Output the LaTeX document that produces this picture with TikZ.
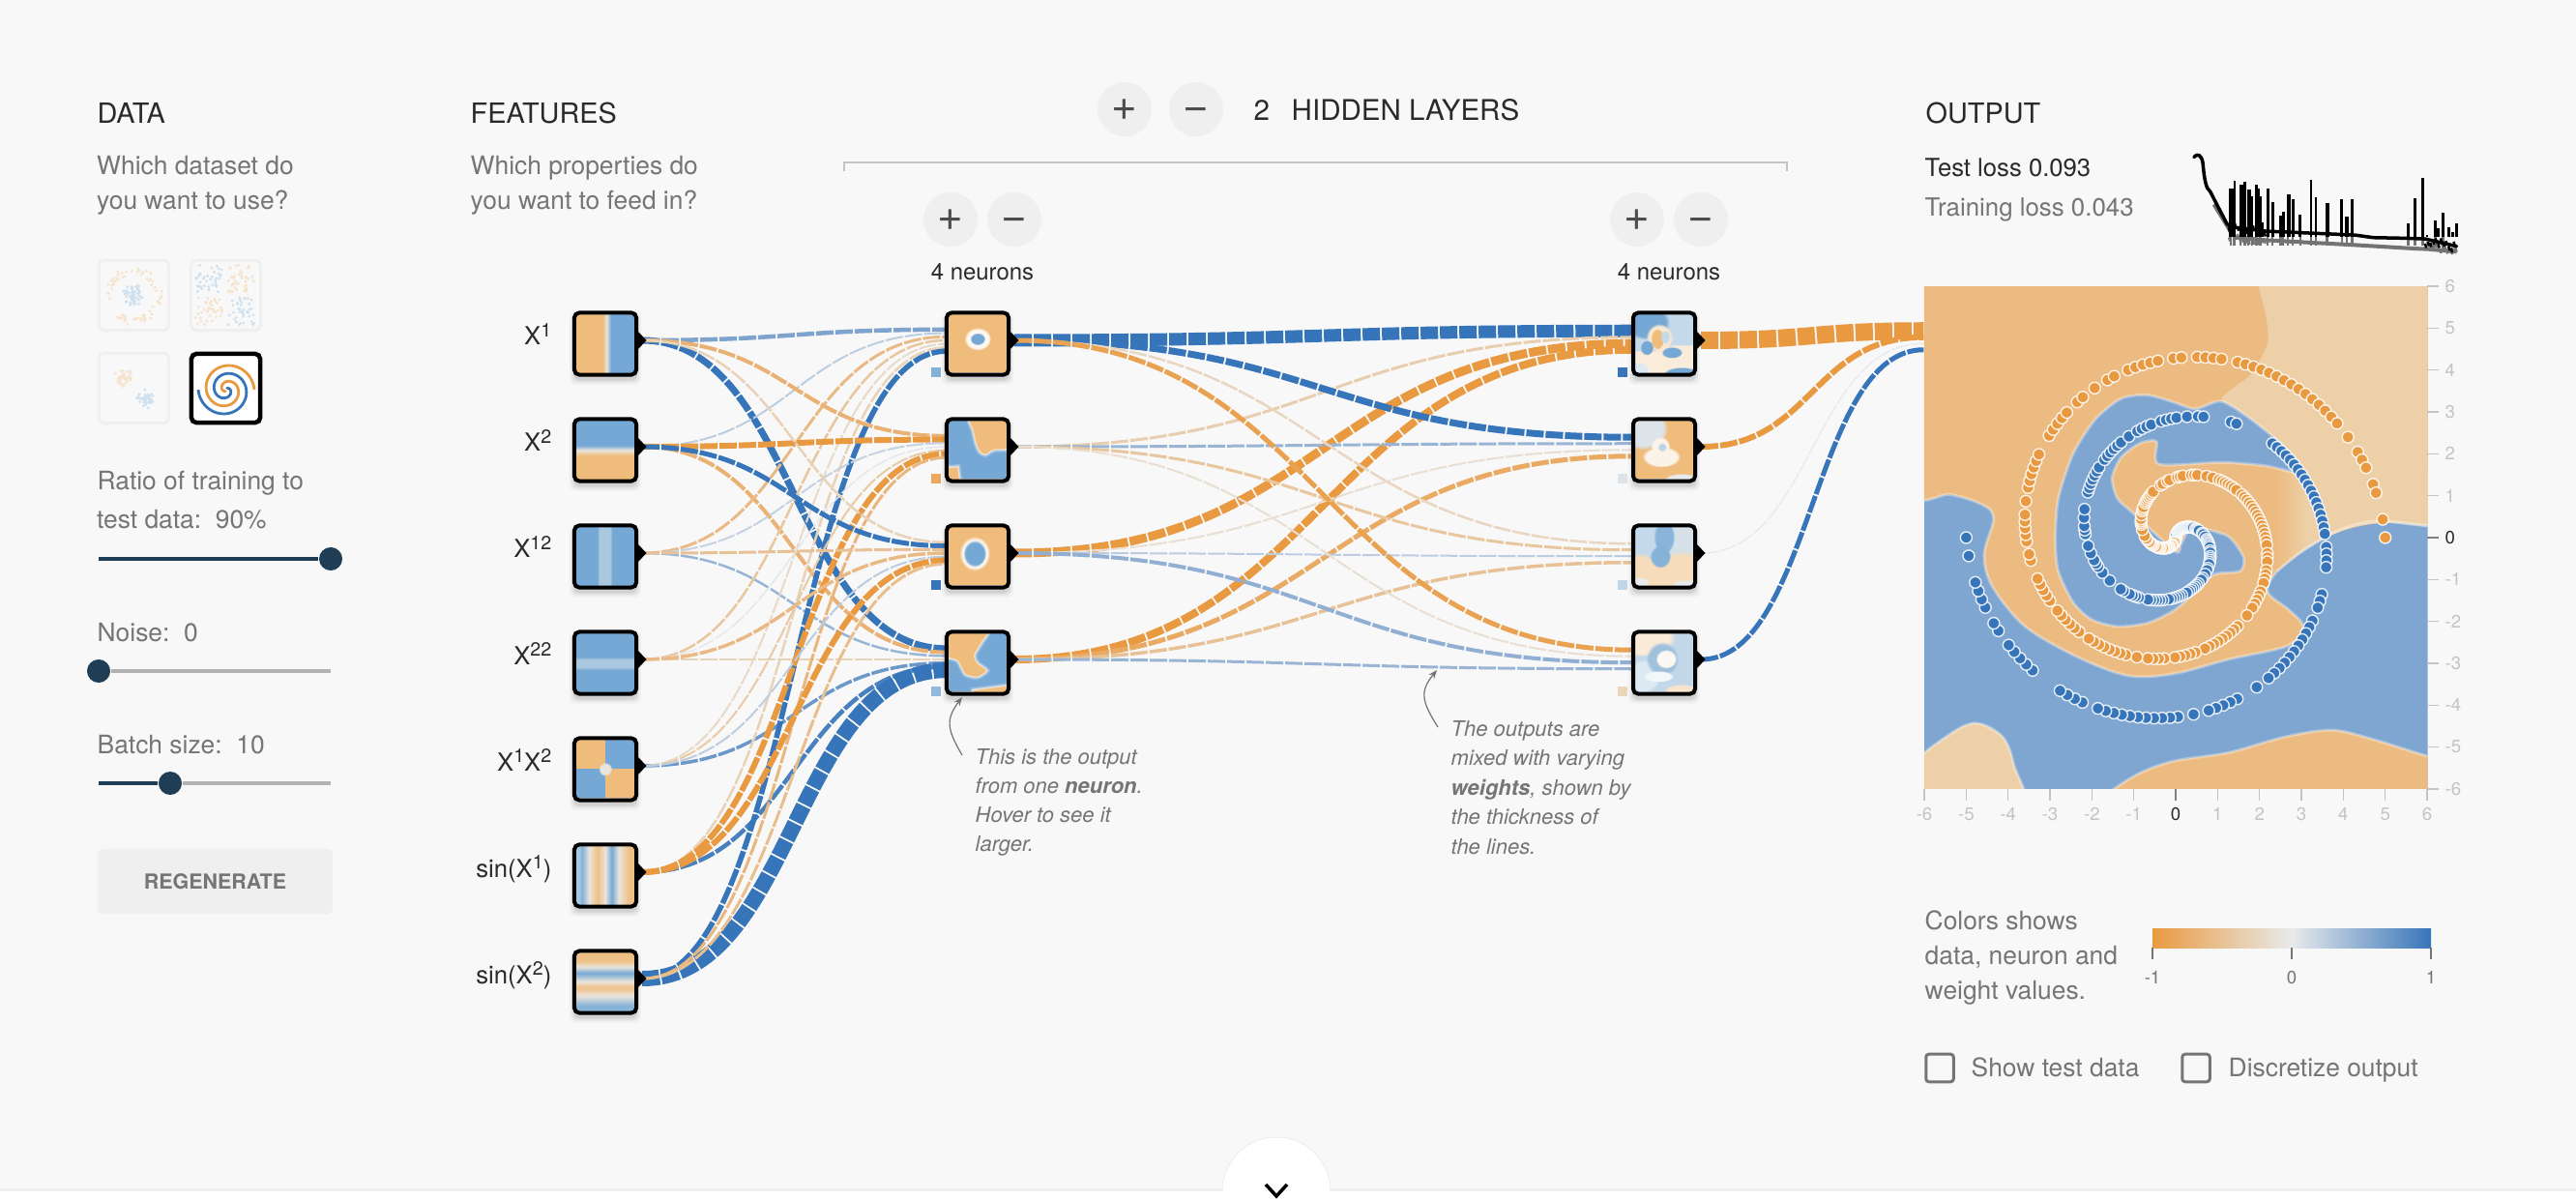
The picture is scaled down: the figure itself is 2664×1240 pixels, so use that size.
\documentclass[tikz,border=0pt]{standalone}
\usepackage{fontspec}
\setmainfont{TeX Gyre Heros}
\usetikzlibrary{calc,arrows.meta,fadings}
\definecolor{org}{HTML}{E99A41}
\definecolor{blu}{HTML}{3775BA}
\definecolor{neut}{HTML}{E8EAEB}
\definecolor{pageb}{HTML}{F8F8F8}
\definecolor{to}{HTML}{EFBC7C}
\definecolor{tb}{HTML}{75A8D4}
\definecolor{tw}{HTML}{E9E4DC}
\definecolor{tl}{HTML}{AAC9E0}
\definecolor{po}{HTML}{ECBB82}
\definecolor{pb}{HTML}{7FA6D0}
\definecolor{pe}{HTML}{EDD0A8}
\definecolor{navy}{HTML}{1F3D54}
\definecolor{txtg}{HTML}{757575}
\definecolor{txtd}{HTML}{2A2A2A}
\definecolor{tick}{HTML}{C4C4C4}
\definecolor{btn}{HTML}{EFEFEF}
\definecolor{dsO}{HTML}{F6E3CC}
\definecolor{dsB}{HTML}{CFE1EE}
\pgfdeclarehorizontalshading{shxa}{100bp}{color(0bp)=(to);color(48bp)=(to);color(51bp)=(tw);color(55bp)=(tb);color(100bp)=(tb)}
\pgfdeclareverticalshading{shxb}{100bp}{color(0bp)=(to);color(45bp)=(to);color(50bp)=(tw);color(54bp)=(tb);color(100bp)=(tb)}
\pgfdeclarehorizontalshading{shxc}{100bp}{color(0bp)=(tb);color(43bp)=(tb);color(45bp)=(tl);color(54bp)=(tl);color(56bp)=(tb);color(100bp)=(tb)}
\pgfdeclareverticalshading{shxd}{100bp}{color(0bp)=(tb);color(44bp)=(tb);color(46bp)=(tl);color(53bp)=(tl);color(55bp)=(tb);color(100bp)=(tb)}
\pgfdeclarehorizontalshading{shxs}{100bp}{color(0bp)=(tl);color(27bp)=(tl);color(30bp)=(tb!75!tl);color(36bp)=(tw);color(43.5bp)=(to!90!tw);color(50bp)=(tw);color(55.5bp)=(tb);color(61.5bp)=(tw);color(70.5bp)=(to!90!tw);color(100bp)=(to!90!tw)}
\pgfdeclareverticalshading{shxt}{100bp}{color(0bp)=(tl);color(29.5bp)=(tb!70!tl);color(38bp)=(tw);color(45bp)=(to!90!tw);color(50.5bp)=(tw);color(57.5bp)=(tb);color(63bp)=(tw);color(68bp)=(to!90!tw);color(100bp)=(to!90!tw)}
\pgfdeclarehorizontalshading{shlegend}{100bp}{color(0bp)=(org);color(25bp)=(org);color(50bp)=(neut);color(75bp)=(blu);color(100bp)=(blu)}
\pgfdeclarehorizontalshading{shpm}{100bp}{color(0bp)=(po);color(27.5bp)=(po);color(34.2bp)=(pe);color(100bp)=(pe)}
\pgfdeclarelayer{bg}\pgfdeclarelayer{links}\pgfdeclarelayer{thumbs}
\pgfsetlayers{bg,links,thumbs,main}
\tikzset{
  link/.style={dash pattern=on 0.18cm off 0.02cm},
  fbox/.style={draw=black,line width=0.04cm,rounded corners=0.05cm,minimum size=0.64cm,inner sep=0pt,outer sep=0pt},
  head/.style={anchor=base west,inner sep=0pt,font=\fontsize{8.2}{10}\selectfont,text=txtd},
  body/.style={anchor=base west,inner sep=0pt,font=\fontsize{7.5}{9}\selectfont,text=txtg},
  note/.style={anchor=base west,inner sep=0pt,font=\fontsize{6.25}{8}\selectfont\itshape,text=txtg},
  flab/.style={anchor=base east,inner sep=0pt,font=\fontsize{7.3}{9}\selectfont,text=txtd},
  roundbtn/.style={circle,fill=btn,minimum size=0.56cm,inner sep=0pt,text=black!70,font=\fontsize{13}{13}\selectfont,text height=6.5pt,text depth=0pt},
  tk/.style={inner sep=0pt,font=\fontsize{5.3}{6}\selectfont,text=tick},
  dstile/.style={draw=btn,line width=0.03cm,rounded corners=0.05cm,minimum size=0.72cm,inner sep=0pt,fill=pageb},
  region/.style={fill=#1,draw=white,draw opacity=.35,line width=0.03cm},
  arrowg/.style={draw=black!55,line width=0.012cm,-{Stealth[length=0.09cm,width=0.07cm]}},
  chk/.style={draw=txtg,line width=0.03cm,rounded corners=0.03cm,minimum size=0.285cm,inner sep=0pt},
  softedge/.style={fill=#1,preaction={draw=white,draw opacity=.25,line width=0.05cm},draw=white,draw opacity=.5,line width=0.018cm},
}
\newcommand\sps[1]{\raisebox{2.5pt}{\fontsize{5.6}{6}\selectfont #1}}
\newcommand\sblob[5]{\fill[#5,path fading=circle with fuzzy edge 20 percent] (#1,#2) ellipse (#3 and #4);}
\newcommand\lnk[6]{%
  \pgfmathtruncatemacro\lnkabs{abs(#5)}%
  \ifnum#5<0 \colorlet{lc}{org!\lnkabs!neut}\else\colorlet{lc}{blu!\lnkabs!neut}\fi
  \pgfmathsetmacro\lnkoff{(#3-(#4-1)/2)/#4*26-3.5}%
  \coordinate (S) at ($(#1.east)+(6,-3.5)$);
  \coordinate (T) at ($(#2.west)+(0,\lnkoff)$);
  \coordinate (M) at ($(S)!.5!(T)$);
  \draw[link,draw=lc,line width={#6*0.01cm}] (S) .. controls (M |- S) and (M |- T) .. (T);
}
\newcommand\thumb[2]{%
  \begin{pgfonlayer}{thumbs}
    \foreach \grow/\op in {5/.03,3/.05,1/.08}{
      \fill[black,opacity=\op,rounded corners=0.06cm] ($(#1.north west)+(-\grow,5-\grow)$) rectangle ($(#1.south east)+(\grow,5+\grow)$);
    }
    \begin{scope}[shift={($(#1.north west)+(2,2)$)}]
      \clip (0,0) rectangle (60,60);
      #2
    \end{scope}
  \end{pgfonlayer}
  \fill[black] ($(#1.east)+(1,-13.5)$) -- ($(#1.east)+(10.5,-3.5)$) -- ($(#1.east)+(1,6.5)$) -- cycle;
}
\newcommand\bias[2]{\fill[#2] ($(#1.north west)+(-16,56.5)$) rectangle ($(#1.north west)+(-6,66.5)$);}
\begin{document}
\begin{tikzpicture}[x=0.01cm,y=-0.01cm]
\useasboundingbox (0,0) rectangle (2664,1240);
\begin{pgfonlayer}{bg}
  \fill[pageb] (0,0) rectangle (2664,1240);
\end{pgfonlayer}

% headings
\node[head] (hdata) at (100,128) {DATA};
\node[body] (d1) at (99.5,181) {Which dataset do};
\node[body] (d2) at (99.5,217) {you want to use?};
\node[head] (hfeat) at (486,128) {FEATURES};
\node[body] (f1) at (486,181) {Which properties do};
\node[body] (f2) at (486,217) {you want to feed in?};
\node[head] (hout) at (1991,128) {OUTPUT};

% dataset tiles
\node[dstile] (ds1) at (138.5,305.5) {};
\node[dstile] (ds2) at (233.5,305.5) {};
\node[dstile] (ds3) at (138.5,401.5) {};
\node[dstile,draw=black,line width=0.045cm,fill=white,minimum size=0.71cm] (ds4) at (233.5,401.5) {};
\pgfmathsetseed{11}
\foreach \i in {1,...,70}{\pgfmathsetmacro\aa{rnd*360}\pgfmathsetmacro\rr{22+rnd*8}
  \fill[dsO] ({138+\rr*cos(\aa)},{306+\rr*sin(\aa)}) circle (1.6);}
\foreach \i in {1,...,60}{\pgfmathsetmacro\aa{rnd*360}\pgfmathsetmacro\rr{rnd*12}
  \fill[dsB] ({138+\rr*cos(\aa)},{306+\rr*sin(\aa)}) circle (1.6);}
\foreach \i in {1,...,40}{
  \fill[dsB] ({233-3-rnd*28},{305-3-rnd*28}) circle (1.6);
  \fill[dsO] ({233+3+rnd*28},{305-3-rnd*28}) circle (1.6);
  \fill[dsO] ({233-3-rnd*28},{305+3+rnd*28}) circle (1.6);
  \fill[dsB] ({233+3+rnd*28},{305+3+rnd*28}) circle (1.6);}
\foreach \i in {1,...,45}{\pgfmathsetmacro\aa{rnd*360}\pgfmathsetmacro\rr{rnd*10}
  \fill[dsO] ({127+\rr*cos(\aa)},{390+\rr*sin(\aa)}) circle (1.6);
  \pgfmathsetmacro\aa{rnd*360}\pgfmathsetmacro\rr{rnd*10}
  \fill[dsB] ({151+\rr*cos(\aa)},{413+\rr*sin(\aa)}) circle (1.6);}
\draw[blu,line width=0.028cm] plot[smooth,domain=0.03:1,samples=90] ({234+29*\x*sin(630*\x)},{403-29*\x*cos(630*\x)});
\draw[org,line width=0.028cm] plot[smooth,domain=0.03:1,samples=90] ({234-29*\x*sin(630*\x)},{403+29*\x*cos(630*\x)});

% sliders
\node[body] (r1) at (100,507) {Ratio of training to};
\node[body] (r2) at (99.5,547) {test data:\ \ 90\%};
\node[body] (n1) at (100,663) {Noise:\ \ 0};
\node[body] (b1) at (100,779) {Batch size:\ \ 10};
\node[circle,fill=navy,minimum size=0.24cm,inner sep=0pt] (k1) at (342,578) {};
\node[circle,fill=navy,minimum size=0.24cm,inner sep=0pt] (k2) at (102,694) {};
\node[circle,fill=navy,minimum size=0.24cm,inner sep=0pt] (k3) at (176,810) {};
\coordinate (s1a) at (102,578); \coordinate (s2b) at (342,694); \coordinate (s3a) at (102,810); \coordinate (s3b) at (342,810);
\begin{pgfonlayer}{thumbs}
\draw[navy,line width=0.04cm] (s1a) -- (k1);
\draw[black!30,line width=0.04cm] (k2) -- (s2b);
\draw[navy,line width=0.04cm] (s3a) -- (k3);
\draw[black!30,line width=0.04cm] (k3) -- (s3b);
\end{pgfonlayer}
\node[fill=btn,rounded corners=0.05cm,minimum width=2.43cm,minimum height=0.67cm,inner sep=0pt,text=txtg,font=\fontsize{6.1}{8}\selectfont\bfseries] (regen) at (222.5,911.5) {REGENERATE};

% feature labels
\foreach \nm/\yy/\tx in {l1/357/{X\sps{1}},l2/467/{X\sps{2}},l3/577/{X\sps{12}},l4/687/{X\sps{22}},l5/797/{X\sps{1}X\sps{2}},l6/907/{sin(X\sps{1})},l7/1017/{sin(X\sps{2})}}{
  \node[flab] (\nm) at (571,\yy) {\tx};
}

% network nodes
\foreach \k in {1,...,7}{\node[fbox] (n\k) at (626,{355.5+110*(\k-1)}) {};}
\foreach \k in {1,...,4}{
  \node[fbox] (h\k) at (1011,{355.5+110*(\k-1)}) {};
  \node[fbox] (g\k) at (1721,{355.5+110*(\k-1)}) {};
}
\node[inner sep=0pt,minimum size=0pt] (outin) at (1990,355.5) {};

% links
\begin{pgfonlayer}{links}
\lnk{n1}{h4}{0}{7}{100}{7}
\lnk{n2}{h4}{1}{7}{-70}{4}
\lnk{n3}{h4}{2}{7}{45}{2.5}
\lnk{n4}{h4}{3}{7}{-30}{2.5}
\lnk{n5}{h4}{4}{7}{70}{3.5}
\lnk{n6}{h4}{5}{7}{90}{4.5}
\lnk{n7}{h4}{6}{7}{100}{16}
\lnk{n1}{h1}{0}{7}{60}{4.5}
\lnk{n2}{h1}{1}{7}{25}{2}
\lnk{n3}{h1}{2}{7}{-60}{3}
\lnk{n4}{h1}{3}{7}{-45}{2.5}
\lnk{n5}{h1}{4}{7}{-20}{2}
\lnk{n6}{h1}{5}{7}{-30}{2.5}
\lnk{n7}{h1}{6}{7}{100}{5.5}
\lnk{n1}{h2}{0}{7}{-70}{4}
\lnk{n2}{h2}{1}{7}{-100}{6}
\lnk{n3}{h2}{2}{7}{20}{2}
\lnk{n4}{h2}{3}{7}{2}{1.5}
\lnk{n5}{h2}{4}{7}{-40}{2}
\lnk{n6}{h2}{5}{7}{-100}{6}
\lnk{n7}{h2}{6}{7}{-65}{3}
\lnk{n1}{h3}{0}{7}{-30}{2.5}
\lnk{n2}{h3}{1}{7}{100}{5}
\lnk{n3}{h3}{2}{7}{-50}{3}
\lnk{n4}{h3}{3}{7}{-60}{3.5}
\lnk{n5}{h3}{4}{7}{25}{2}
\lnk{n6}{h3}{5}{7}{-100}{6}
\lnk{n7}{h3}{6}{7}{-55}{3}
% hidden to hidden
\lnk{h1}{g1}{0}{4}{100}{13}
\lnk{h2}{g1}{1}{4}{-35}{3}
\lnk{h3}{g1}{2}{4}{-100}{9}
\lnk{h4}{g1}{3}{4}{-100}{8}
\lnk{h1}{g2}{0}{4}{100}{7}
\lnk{h2}{g2}{1}{4}{45}{3}
\lnk{h3}{g2}{2}{4}{-15}{2}
\lnk{h4}{g2}{3}{4}{-80}{5}
\lnk{h1}{g3}{0}{4}{-25}{2.5}
\lnk{h2}{g3}{1}{4}{-45}{3}
\lnk{h3}{g3}{2}{4}{25}{2}
\lnk{h4}{g3}{3}{4}{-50}{3.5}
\lnk{h1}{g4}{0}{4}{-90}{5}
\lnk{h2}{g4}{1}{4}{-15}{2}
\lnk{h3}{g4}{2}{4}{50}{4}
\lnk{h4}{g4}{3}{4}{45}{3}
% to output
\lnk{g1}{outin}{0}{4}{-100}{18}
\lnk{g2}{outin}{1}{4}{-100}{6}
\lnk{g3}{outin}{2}{4}{0}{1.5}
\lnk{g4}{outin}{3}{4}{100}{5}
\end{pgfonlayer}

% feature thumbnails
\thumb{n1}{\shade[shading=shxa] (0,0) rectangle (60,60);}
\thumb{n2}{\shade[shading=shxb] (0,0) rectangle (60,60);}
\thumb{n3}{\shade[shading=shxc] (0,0) rectangle (60,60);}
\thumb{n4}{\shade[shading=shxd] (0,0) rectangle (60,60);}
\thumb{n5}{\fill[to] (0,0) rectangle (60,60);
  \fill[tb] (30,0) rectangle (60,30); \fill[tb] (0,30) rectangle (30,60);
  \sblob{30}{30}{7}{7}{tw}}
\thumb{n6}{\shade[shading=shxs] (0,0) rectangle (60,60);}
\thumb{n7}{\shade[shading=shxt] (0,0) rectangle (60,60);}

% hidden layer 1 thumbnails
\thumb{h1}{\fill[to] (0,0) rectangle (60,60);
  \sblob{30}{25}{14}{12}{white!88!to}
  \sblob{30}{25}{8}{6.5}{tb}}
\thumb{h2}{\fill[tb] (0,0) rectangle (60,60);
  \path[softedge=to] plot[smooth cycle,tension=.4] coordinates {(22,-6)(25,10)(28,23)(32,32)(38,35)(47,30)(66,27)(70,-6)};
  \path[softedge=to] (-3,48) -- (10,47) -- (12,63) -- (-3,63) -- cycle;}
\thumb{h3}{\fill[to] (0,0) rectangle (60,60);
  \sblob{27}{27}{16}{18}{white!88!to}
  \sblob{27}{27}{12}{14}{tb}}
\thumb{h4}{\fill[tb] (0,0) rectangle (60,60);
  \path[softedge=to] plot[smooth cycle,tension=.4] coordinates {(-5,-5)(41,-5)(34,10)(27,22)(30,30)(40,38)(30,45)(17,42)(9,28)(-5,22)};
  \path[softedge=to] (25,58) -- (63,53) -- (63,63) -- (25,63) -- cycle;}

% hidden layer 2 thumbnails
\thumb{g1}{\fill[tl!70!white] (0,0) rectangle (60,60);
  \sblob{12}{8}{24}{18}{tb}
  \fill[to!28!white] (-3,38) -- (20,38) -- (40,32) -- (63,32) -- (63,63) -- (-3,63) -- cycle;
  \sblob{25}{24}{14}{15}{to!35!white}
  \sblob{23}{25}{7}{11}{to}
  \sblob{31}{23}{5}{7}{tl!70!white}
  \sblob{12}{34}{7}{8}{tb}
  \sblob{38}{39}{11}{6}{tb}
  \sblob{48}{60}{18}{6}{tb}
  \sblob{4}{56}{10}{7}{tl!40!white}}
\thumb{g2}{\fill[to] (0,0) rectangle (60,60);
  \sblob{8}{8}{26}{22}{neut!80!tl}
  \sblob{27}{37}{20}{11}{to!18!white}
  \sblob{26}{26}{10}{10}{to!18!white}
  \sblob{28}{27}{4.5}{4.5}{tl!80!white}
  \sblob{48}{60}{18}{6}{neut}}
\thumb{g3}{\fill[neut!70!tl] (0,0) rectangle (60,60);
  \sblob{8}{14}{20}{24}{tl!70!white}
  \fill[to!52!white,path fading=circle with fuzzy edge 15 percent] (-40,24) rectangle (0,0);
  \sblob{48}{50}{34}{26}{to!52!white}
  \sblob{6}{50}{18}{24}{to!52!white}
  \sblob{28}{58}{28}{14}{to!52!white}
  \sblob{30}{10}{11}{18}{tb!85!white}
  \sblob{26}{30}{11}{12}{tb!70!tl}
  \sblob{4}{57}{11}{6}{neut}
  \sblob{52}{59}{14}{5}{neut}}
\thumb{g4}{\fill[tl!72!white] (0,0) rectangle (60,60);
  \sblob{8}{4}{34}{20}{to!30!white}
  \sblob{8}{44}{18}{18}{tl!40!white}
  \sblob{28}{26}{17}{18}{tl!90!blu}
  \sblob{32}{26}{11}{10}{white!90!to}
  \sblob{24}{44}{16}{6}{white!85!tl}
  \sblob{48}{58}{18}{6}{to!40!white}}

% bias squares
\bias{h1}{fill=tb!90!white}
\bias{h2}{fill=org!85!white}
\bias{h3}{fill=blu}
\bias{h4}{fill=tb!80!white}
\bias{g1}{fill=blu}
\bias{g2}{fill=neut!90!tb}
\bias{g3}{fill=tl!75!white}
\bias{g4}{fill=to!45!neut}

% hidden layers controls
\node[roundbtn] (addl) at (1163,113) {+};
\node[roundbtn] (reml) at (1237,113) {−};
\node[head,font=\fontsize{8.4}{10}\selectfont] (nlayers) at (1296,125) {2};
\node[head,font=\fontsize{8.4}{10}\selectfont] (hlayers) at (1335,125) {HIDDEN LAYERS};
\coordinate (br1) at (873,177); \coordinate (br2) at (873,168); \coordinate (br3) at (1848,168); \coordinate (br4) at (1848,177);
\draw[tick,line width=0.02cm] (br1) -- (br2) -- (br3) -- (br4);
\node[roundbtn] (add1) at (983,227) {+};
\node[roundbtn] (rem1) at (1049,227) {−};
\node[roundbtn] (add2) at (1693,227) {+};
\node[roundbtn] (rem2) at (1759,227) {−};
\node[anchor=base,inner sep=0pt,font=\fontsize{6.8}{8}\selectfont,text=txtd] (cnt1) at (1016,290) {4 neurons};
\node[anchor=base,inner sep=0pt,font=\fontsize{6.8}{8}\selectfont,text=txtd] (cnt2) at (1726,290) {4 neurons};

% annotations
\coordinate (a1s) at (995,781); \coordinate (a1e) at (995,721);
\draw[arrowg] (a1s) .. controls (980,755) and (977,745) .. (a1e);
\coordinate (a2s) at (1487,752); \coordinate (a2e) at (1486,693);
\draw[arrowg] (a2s) .. controls (1470,725) and (1468,715) .. (a2e);
\node[note] (na1) at (1008,790) {This is the output};
\node[note] (na2) at (1008,820) {from one \textbf{neuron}.};
\node[note] (na3) at (1008,850) {Hover to see it};
\node[note] (na4) at (1008,880) {larger.};
\node[note] (nb1) at (1500,761) {The outputs are};
\node[note] (nb2) at (1500,791) {mixed with varying};
\node[note] (nb3) at (1500,822) {\textbf{weights}, shown by};
\node[note] (nb4) at (1500,852) {the thickness of};
\node[note] (nb5) at (1500,883) {the lines.};

% output texts
\node[anchor=base west,inner sep=0pt,font=\fontsize{7.3}{9}\selectfont,text=txtd] (tl1) at (1990,183) {Test loss 0.093};
\node[anchor=base west,inner sep=0pt,font=\fontsize{7.35}{9}\selectfont,text=txtg] (tl2) at (1990,224) {Training loss 0.043};

% loss chart
\begin{scope}[shift={(1960,80)},x=0.003827cm,y=-0.003333cm]
  \foreach \xx in {905,915,932,943,953,963,975,985,1005,1018,1040,1047,1060,1073,1093,1122,1135,1165,1205,1218,1233,1385,1403,1423,1457,1478}{
    \draw[black!55,line width=0.025cm] (\xx,490) -- (\xx,522);}
  \pgfmathsetseed{7}
  \foreach \xa in {900,906,...,1000}{\pgfmathsetmacro\ya{478+(\xa-900)*.25+rnd*22}
    \draw[black!55,line width=0.02cm] (\xa,\ya) -- ++(3,12);}
  \foreach \xa in {1440,1446,...,1512}{\pgfmathsetmacro\ya{510+(\xa-1440)*.15+rnd*22}
    \draw[black!55,line width=0.025cm] (\xa,\ya) -- ++(3,14);}
  \draw[black!55,line width=0.04cm,line join=round] (860,395) -- (895,460) -- (905,480) -- (918,497) -- (1000,506) -- (1240,521) -- (1400,532) -- (1440,534) -- (1515,542);
  \foreach \xx/\yy in {905/345,912/345,916/322,932/335,937/335,944/325,953/350,957/350,963/370,975/335,979/345,985/370,990/450,1005/345,1018/388,1040/430,1047/418,1060/365,1063/365,1073/378,1093/428,1122/320,1135/372,1165/390,1168/392,1205/380,1218/432,1221/432,1233/378,1385/455,1403/375,1423/312,1435/490,1457/445,1465/470,1478/420,1495/465,1505/480,1515/455}{
    \draw[black,line width=0.028cm] (\xx,495) -- (\xx,\yy);}
  \foreach \xa in {900,908,...,1000}{\pgfmathsetmacro\ya{445+(\xa-900)*.15+rnd*22}
    \draw[black,line width=0.025cm] (\xa,\ya) -- ++(3,14);}
  \foreach \xa in {1430,1437,...,1512}{\pgfmathsetmacro\ya{490+(\xa-1430)*.2+rnd*28}
    \draw[black,line width=0.025cm] (\xa,\ya) -- ++(3,14);}
  \draw[black,line width=0.035cm,line join=round,line cap=round] (806,248) .. controls (815,235) and (826,240) .. (830,265) .. controls (835,330) and (840,345) .. (850,355) -- (870,400) -- (895,455) -- (905,465) -- (1000,478) -- (1240,490) -- (1290,498) -- (1380,500) -- (1430,502) -- (1515,525);
\end{scope}

% decision map
\node[inner sep=0pt,minimum size=5.2cm] (heat) at (2250,556) {};
\begin{scope}[shift={(1960,280)},x=0.003827cm,y=-0.003571cm]
  \begin{scope}
    \clip (78,45) rectangle (1437,1500);
    \fill[pb] (78,45) rectangle (1437,1500);
    \path[region=po] plot[smooth cycle,tension=.55] coordinates {(40,640)(150,648)(240,680)(265,720)(240,820)(260,910)(340,1020)(440,1090)(560,1150)(650,1175)(760,1165)(900,1125)(1060,1085)(1100,1030)(1060,980)(1005,930)(1030,870)(1100,810)(1200,750)(1300,725)(1437,738)(1600,740)(1600,-100)(0,-100)(-40,300)};
    \fill[pe] plot[smooth cycle,tension=.4] coordinates {(975,20)(1000,130)(1005,210)(960,300)(880,378)(1010,470)(1100,590)(1300,592)(1600,592)(1600,-100)(960,-100)};
    \shade[shading=shpm] (1000,575) -- (1600,575) -- (1600,740) -- (1437,738) .. controls (1300,715) and (1200,740) .. (1100,810) -- (1030,870) -- cycle;
    \draw[white,draw opacity=.35,line width=0.03cm] plot[smooth,tension=.55] coordinates {(1030,870)(1100,810)(1200,750)(1300,725)(1437,738)};
    \path[region=pb] plot[smooth cycle,tension=.45] coordinates {(810,400)(880,378)(960,430)(1050,510)(1100,585)(1000,565)(880,555)(712,560)(705,495)(660,500)(610,540)(585,600)(600,660)(640,700)(700,760)(760,815)(772,790)(800,735)(830,745)(900,770)(940,830)(930,870)(860,880)(800,940)(750,985)(680,1020)(600,1030)(530,1010)(480,960)(440,870)(432,780)(440,660)(480,530)(540,430)(610,370)(680,360)(750,380)};
    \path[region=pe] plot[smooth cycle,tension=.55] coordinates {(40,1440)(150,1340)(220,1310)(290,1350)(320,1430)(335,1560)(40,1560)};
    \path[region=po] plot[smooth cycle,tension=.5] coordinates {(560,1530)(650,1460)(750,1420)(900,1395)(1050,1350)(1180,1330)(1300,1360)(1437,1405)(1600,1440)(1600,1600)(560,1600)};
  \end{scope}
\end{scope}

% spiral points
\pgfmathsetseed{42}
\foreach \i in {1,...,250}{
  \pgfmathsetmacro\ff{\i/250}
  \pgfmathsetmacro\pa{216.65*\ff*sin(630*\ff)}
  \pgfmathsetmacro\pc{216.65*\ff*cos(630*\ff)}
  \pgfmathparse{rnd<0.72?1:0}\ifnum\pgfmathresult=1
    \draw[draw=white,draw opacity=.85,line width=0.014cm,fill=blu] ({2250+\pa},{556-\pc}) circle (6);
  \fi
  \pgfmathparse{rnd<0.72?1:0}\ifnum\pgfmathresult=1
    \draw[draw=white,draw opacity=.85,line width=0.014cm,fill=org] ({2250-\pa},{556+\pc}) circle (6);
  \fi
}

% axes
\foreach \v in {-6,...,6}{
  \pgfmathsetmacro\vy{556-43.33*\v}
  \pgfmathsetmacro\vx{2250+43.33*\v}
  \ifnum\v=0
    \node[tk,anchor=west,text=txtd] (ry\v) at (2528,\vy) {\v};
    \node[tk,anchor=base,text=txtd] (rx\v) at (\vx,848) {\v};
    \draw[black!50,line width=0.012cm] (2510,\vy) -- (2522,\vy);
    \draw[black!50,line width=0.012cm] (\vx,816) -- (\vx,828);
  \else
    \node[tk,anchor=west] (ry\v) at (2528,\vy) {\v};
    \node[tk,anchor=base] (rx\v) at (\vx,848) {\v};
    \draw[tick,line width=0.012cm] (2510,\vy) -- (2522,\vy);
    \draw[tick,line width=0.012cm] (\vx,816) -- (\vx,828);
  \fi
}

% legend
\node[body] (c1) at (1990,961) {Colors shows};
\node[body] (c2) at (1990,997) {data, neuron and};
\node[body] (c3) at (1990,1033) {weight values.};
\shade[shading=shlegend] (2226,960) rectangle (2514,980);
\foreach \xx/\lab in {2226/-1,2370/0,2514/1}{
  \draw[txtg,line width=0.012cm] (\xx,980) -- (\xx,992);
  \node[tk,anchor=base,text=txtg] (lg\xx) at (\xx,1017) {\lab};
}
\node[chk] (cb1) at (2006,1104.5) {};
\node[chk] (cb2) at (2271,1104.5) {};
\node[body] (cbt1) at (2038,1113) {Show test data};
\node[body] (cbt2) at (2304,1113) {Discretize output};

% bottom band and chevron
\fill[neut!60!pageb] (0,1229) rectangle (2664,1232);
\fill[white] (0,1232) rectangle (2664,1240);
\node[circle,fill=white,draw=neut!70!pageb,line width=0.01cm,minimum size=1.12cm,inner sep=0pt] (more) at (1320,1232) {};
\fill[white] (1200,1232) rectangle (1440,1240);
\coordinate (ch1) at (1309,1225); \coordinate (ch2) at (1320,1237); \coordinate (ch3) at (1331,1225);
\draw[black,line width=0.035cm] (ch1) -- (ch2) -- (ch3);
\end{tikzpicture}
\end{document}
